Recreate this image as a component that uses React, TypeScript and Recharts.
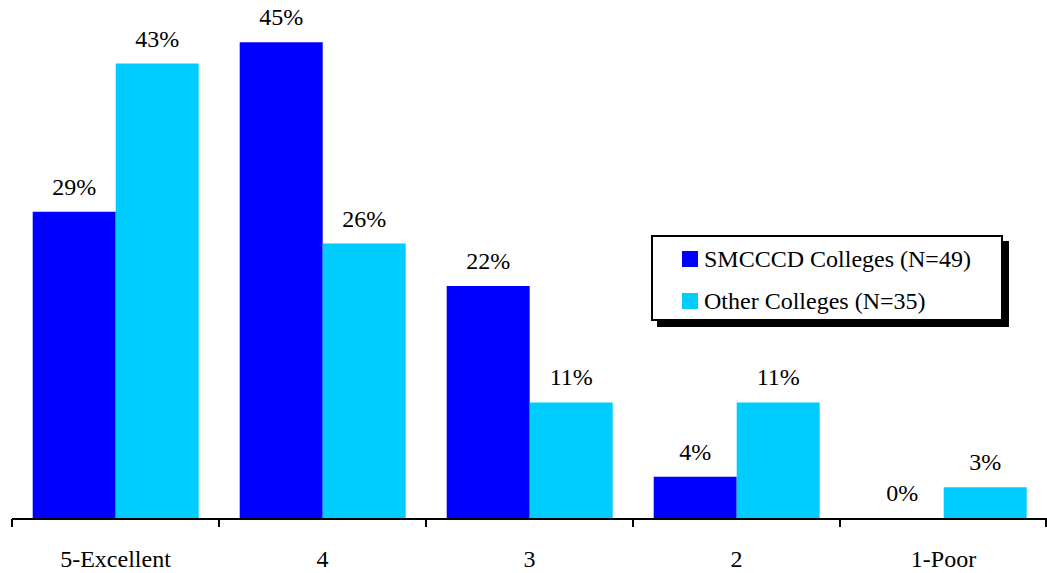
import { BarChart, Bar, XAxis, YAxis, LabelList, Legend } from 'recharts'

const categories = ['5-Excellent', '4', '3', '2', '1-Poor']
const smcccd = [29, 45, 22, 4, 0]
const other = [43, 26, 11, 11, 3]
const seriesNames = ['SMCCCD Colleges (N=49)', 'Other Colleges (N=35)']
const COLORS = ['#0000FF', '#00CCFF']

const FONT = "'Liberation Serif', Tinos, 'Times New Roman', Times, 'DejaVu Serif', serif"

const data = categories.map((name, i) => ({ name, smcccd: smcccd[i], other: other[i] }))

// ticks sit on the category boundaries, labels in the middle
function CategoryTick(props: any) {
  const { x, y, payload, index } = props
  const half = payload?.offset ?? 0
  const last = index === categories.length - 1
  return (
    <g>
      <line x1={x - half} y1={y} x2={x - half} y2={y + 8} stroke="#000" strokeWidth={2} />
      {last && <line x1={x + half - 1} y1={y} x2={x + half - 1} y2={y + 8} stroke="#000" strokeWidth={2} />}
      <text x={x} y={y + 48} textAnchor="middle" fontSize={24} style={{ fontFamily: FONT }} fill="#000">
        {payload.value}
      </text>
    </g>
  )
}

function LegendBox() {
  return (
    <div
      style={{
        width: 352,
        height: 86,
        boxSizing: 'border-box',
        border: '2px solid #000',
        boxShadow: '6px 6px 0 #000',
        background: '#fff',
        fontFamily: FONT,
        fontSize: 24,
        color: '#000',
        paddingTop: 1,
        paddingLeft: 29,
      }}
    >
      {seriesNames.map((n, i) => (
        <div key={n} style={{ display: 'flex', alignItems: 'center', height: 42, whiteSpace: 'nowrap' }}>
          <span style={{ display: 'inline-block', width: 16, height: 16, background: COLORS[i], marginRight: 6 }} />
          {n}
        </div>
      ))}
    </div>
  )
}

const labelStyle = { fontSize: 24, fontFamily: FONT, fill: '#000' }
const pct = (v: any) => `${v}%`
// a zero value still needs a (hidden) rect so its label is drawn
const keepZero = (v: any) => (v === 0 ? 1 : 0)

export default function App() {
  return (
    <div style={{ position: 'absolute', left: 0, top: 0, background: '#fff' }}>
      <BarChart
        width={1047}
        height={573}
        data={data}
        margin={{ top: 0, right: 0, bottom: 0, left: 12 }}
        barCategoryGap="10%"
        barGap={0}
      >
        <YAxis hide domain={[0, 49]} />
        <XAxis
          dataKey="name"
          height={54}
          tickLine={false}
          tickSize={0}
          tickMargin={0}
          axisLine={{ stroke: '#000', strokeWidth: 2 }}
          tick={<CategoryTick />}
          interval={0}
        />
        <Legend
          layout="vertical"
          align="center"
          verticalAlign="middle"
          content={<LegendBox />}
          wrapperStyle={{ left: 651, top: 235, width: 352 }}
        />
        <Bar dataKey="smcccd" name={seriesNames[0]} fill={COLORS[0]} minPointSize={keepZero} isAnimationActive={false}>
          <LabelList dataKey="smcccd" position="top" offset={17} formatter={pct} style={labelStyle} />
        </Bar>
        <Bar dataKey="other" name={seriesNames[1]} fill={COLORS[1]} minPointSize={keepZero} isAnimationActive={false}>
          <LabelList dataKey="other" position="top" offset={17} formatter={pct} style={labelStyle} />
        </Bar>
      </BarChart>
    </div>
  )
}
